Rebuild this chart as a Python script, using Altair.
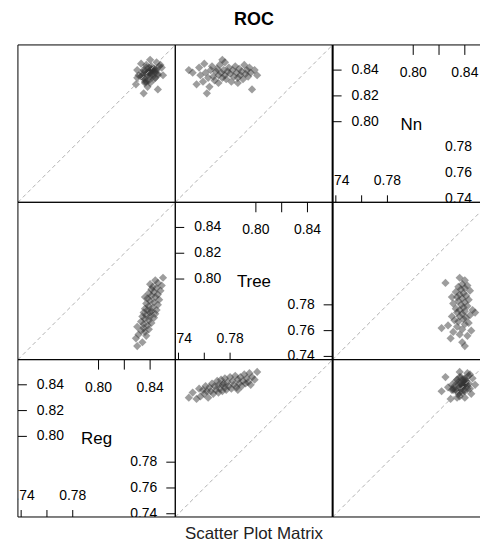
import altair as alt
import pandas as pd

# ---------------- data ----------------
models = ["Reg", "Tree", "Nn"]
tree = [0.748, 0.751, 0.754, 0.756, 0.757, 0.759, 0.760, 0.761, 0.763, 0.764,
        0.765, 0.766, 0.767, 0.768, 0.769, 0.770, 0.771, 0.771, 0.772, 0.773,
        0.774, 0.775, 0.776, 0.776, 0.777, 0.778, 0.779, 0.780, 0.781, 0.782,
        0.783, 0.784, 0.785, 0.786, 0.787, 0.788, 0.789, 0.790, 0.791, 0.792,
        0.793, 0.794, 0.795, 0.796, 0.797, 0.799, 0.801, 0.762, 0.774, 0.786]
reg = [0.830, 0.834, 0.829, 0.837, 0.831, 0.836, 0.833, 0.839, 0.830, 0.838,
       0.835, 0.841, 0.833, 0.839, 0.836, 0.843, 0.834, 0.840, 0.837, 0.844,
       0.835, 0.841, 0.838, 0.845, 0.836, 0.842, 0.839, 0.846, 0.837, 0.843,
       0.840, 0.847, 0.838, 0.844, 0.841, 0.846, 0.839, 0.843, 0.848, 0.841,
       0.845, 0.842, 0.849, 0.840, 0.846, 0.844, 0.850, 0.835, 0.840, 0.836]
nn = [0.840, 0.838, 0.829, 0.842, 0.836, 0.831, 0.845, 0.838, 0.834, 0.827,
      0.840, 0.843, 0.835, 0.832, 0.839, 0.841, 0.836, 0.830, 0.844, 0.838,
      0.834, 0.840, 0.836, 0.846, 0.833, 0.839, 0.842, 0.837, 0.831, 0.840,
      0.835, 0.843, 0.838, 0.834, 0.841, 0.836, 0.839, 0.833, 0.844, 0.837,
      0.840, 0.835, 0.842, 0.838, 0.825, 0.840, 0.836, 0.822, 0.848, 0.830]

left_tick_vals = [0.80, 0.82, 0.84]
left_tick_text = ["0.80", "0.82", "0.84"]
top_tick_vals = [0.80, 0.82, 0.84]
top_label_vals = [0.80, 0.84]
top_label_text = ["0.80", "0.84"]
bottom_tick_vals = [0.74, 0.76, 0.78]
bottom_label_vals = [0.74, 0.78]
bottom_label_text = ["0.74", "0.78"]
right_tick_vals = [0.74, 0.76, 0.78]
right_tick_text = ["0.74", "0.76", "0.78"]

title_text = "ROC"
xlab_text = "Scatter Plot Matrix"

# ---------------- layout constants ----------------
LO, HI = 0.7375, 0.8595
P = 158          # panel size
W3 = 148         # last column is cut by the picture edge
FONT = "Liberation Sans"
df = pd.DataFrame({"Reg": reg, "Tree": tree, "Nn": nn})
one = pd.DataFrame({"k": [0]})


def scales(width):
    hi_x = LO + (HI - LO) * width / P
    xs = alt.Scale(domain=[LO, hi_x], nice=False, zero=False)
    ys = alt.Scale(domain=[LO, HI], nice=False, zero=False)
    return xs, ys


def borders(width, right=True, left_w=1):
    b = alt.Chart(one)
    layers = [
        b.mark_rule(color="black", strokeWidth=1).encode(
            x=alt.value(0), x2=alt.value(width), y=alt.value(0)),
        b.mark_rule(color="black", strokeWidth=1).encode(
            x=alt.value(0), x2=alt.value(width), y=alt.value(P)),
        b.mark_rule(color="black", strokeWidth=left_w).encode(
            x=alt.value(0), y=alt.value(0), y2=alt.value(P)),
    ]
    if right:
        layers.append(b.mark_rule(color="black", strokeWidth=1).encode(
            x=alt.value(width), y=alt.value(0), y2=alt.value(P)))
    return layers


def scatter_panel(xname, yname, width, right, left_w):
    xs, ys = scales(width)
    pts = alt.Chart(df).mark_point(
        shape="diamond", filled=True, size=68, color="#333333",
        opacity=0.48, clip=True).encode(
        x=alt.X(f"{xname}:Q", scale=xs, axis=None),
        y=alt.Y(f"{yname}:Q", scale=ys, axis=None))
    diag = alt.Chart(pd.DataFrame({"lo": [LO], "hi": [HI]})).mark_rule(
        color="#b0b0b0", strokeDash=[4, 3], strokeWidth=1, clip=True).encode(
        x=alt.X("lo:Q", scale=xs, axis=None), x2="hi:Q",
        y=alt.Y("lo:Q", scale=ys, axis=None), y2="hi:Q")
    return alt.layer(pts, diag, *borders(width, right, left_w)).properties(
        width=width, height=P)


def diag_panel(name, width, right, left_w):
    xs, ys = scales(width)
    tk = dict(color="black", strokeWidth=1, clip=True)
    tx = dict(font=FONT, fontSize=14, color="black", clip=True)
    lt = pd.DataFrame({"v": left_tick_vals, "t": left_tick_text})
    tt = pd.DataFrame({"v": top_tick_vals})
    tl = pd.DataFrame({"v": top_label_vals, "t": top_label_text})
    bt = pd.DataFrame({"v": bottom_tick_vals})
    bl = pd.DataFrame({"v": bottom_label_vals, "t": bottom_label_text})
    rt = pd.DataFrame({"v": right_tick_vals, "t": right_tick_text})
    Y = alt.Y("v:Q", scale=ys, axis=None)
    X = alt.X("v:Q", scale=xs, axis=None)
    layers = [
        alt.Chart(pd.DataFrame({"n": [name]})).mark_text(
            font=FONT, fontSize=17, color="black").encode(
            text="n:N", x=alt.value(79), y=alt.value(80)),
        alt.Chart(lt).mark_rule(**tk).encode(y=Y, x=alt.value(0), x2=alt.value(9)),
        alt.Chart(lt).mark_text(align="left", baseline="middle", **tx).encode(
            y=Y, x=alt.value(19), text="t:N"),
        alt.Chart(tt).mark_rule(**tk).encode(x=X, y=alt.value(0), y2=alt.value(10)),
        alt.Chart(tl).mark_text(align="center", baseline="middle", **tx).encode(
            x=X, y=alt.value(28), text="t:N"),
        alt.Chart(rt).mark_rule(**tk).encode(y=Y, x=alt.value(P - 9), x2=alt.value(P)),
        alt.Chart(rt).mark_text(align="right", baseline="middle", **tx).encode(
            y=Y, x=alt.value(P - 18), text="t:N"),
        alt.Chart(bt).mark_rule(**tk).encode(x=X, y=alt.value(P - 7), y2=alt.value(P)),
        alt.Chart(bl).mark_text(align="center", baseline="middle", **tx).encode(
            x=X, y=alt.value(P - 21), text="t:N"),
    ]
    return alt.layer(*layers, *borders(width, right, left_w)).properties(
        width=width, height=P)


cells = []
for yname in reversed(models):          # top row = Nn
    for ci, xname in enumerate(models):  # left column = Reg
        width = W3 if ci == 2 else P
        right = ci != 2
        left_w = 2 if ci == 2 else 1
        if xname == yname:
            cells.append(diag_panel(xname, width, right, left_w))
        else:
            cells.append(scatter_panel(xname, yname, width, right, left_w))

grid = alt.concat(*cells, columns=3, spacing=0, bounds="flush")

GW = P + P + W3
title_chart = alt.Chart(pd.DataFrame({"t": [title_text]})).mark_text(
    font=FONT, fontSize=18, fontWeight="bold", color="black").encode(
    text="t:N", x=alt.value(237), y=alt.value(19)).properties(width=GW, height=43)
xlab_chart = alt.Chart(pd.DataFrame({"t": [xlab_text]})).mark_text(
    font=FONT, fontSize=17, color="#222222").encode(
    text="t:N", x=alt.value(237), y=alt.value(16)).properties(width=GW, height=29)

chart = alt.vconcat(title_chart, grid, xlab_chart, spacing=0).properties(
    padding={"left": 17, "top": 0, "right": 0, "bottom": 0},
    background="white",
).configure_view(strokeWidth=0)

chart.save("out.html", embed_options={"renderer": "svg", "actions": False})
